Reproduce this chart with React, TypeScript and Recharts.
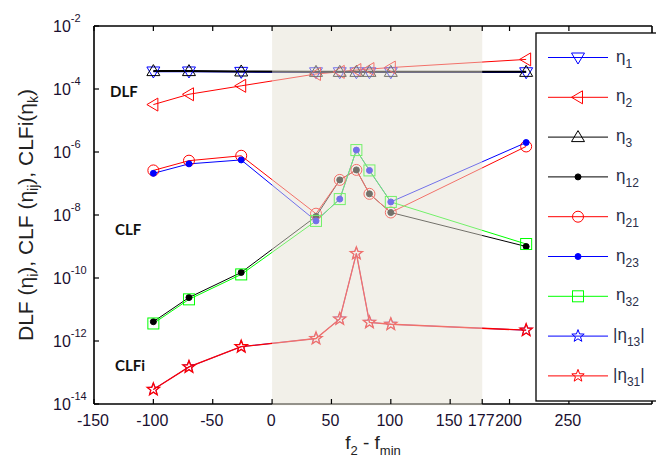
import React from 'react';
import { LineChart, Line, XAxis, YAxis, ReferenceArea } from 'recharts';

// f2 - fmin positions
const fOffsets = [-100, -70, -26, 37, 57, 71, 82, 100, 214];

// DLF
const eta1 = [3.6e-4, 3.6e-4, 3.5e-4, 3.4e-4, 3.4e-4, 3.4e-4, 3.4e-4, 3.4e-4, 3.4e-4];
const eta2 = [3.2e-5, 6.8e-5, 1.26e-4, 3.0e-4, 3.5e-4, 4.0e-4, 4.3e-4, 4.8e-4, 8.7e-4];
const eta3 = [3.7e-4, 3.7e-4, 3.6e-4, 3.5e-4, 3.5e-4, 3.5e-4, 3.5e-4, 3.5e-4, 3.5e-4];
// CLF
const eta12 = [4.1e-12, 2.4e-11, 1.5e-10, 9.0e-9, 1.3e-7, 2.7e-7, 4.7e-8, 1.2e-8, 1.0e-9];
const eta21 = [2.6e-7, 5.3e-7, 7.6e-7, 1.1e-8, 1.3e-7, 2.7e-7, 4.7e-8, 1.2e-8, 1.5e-6];
const eta23 = [2.1e-7, 4.2e-7, 5.6e-7, 6.5e-9, 3.2e-8, 1.15e-6, 2.6e-7, 2.6e-8, 2.0e-6];
const eta32 = [3.6e-12, 2.1e-11, 1.3e-10, 6.5e-9, 3.2e-8, 1.15e-6, 2.6e-7, 2.6e-8, 1.2e-9];
// CLFi
const eta13 = [2.9e-14, 1.5e-13, 6.6e-13, 1.2e-12, 5.0e-12, 6.0e-10, 3.9e-12, 3.4e-12, 2.2e-12];
const eta31 = [2.9e-14, 1.5e-13, 6.6e-13, 1.2e-12, 5.0e-12, 6.0e-10, 3.9e-12, 3.4e-12, 2.2e-12];

const xTicks = [-150, -100, -50, 0, 50, 100, 150, 177, 200, 250];
const yTicks = [1e-14, 1e-12, 1e-10, 1e-8, 1e-6, 1e-4, 1e-2];
const bandRange = [0, 177];

const data = fOffsets.map((f, i) => ({
  f,
  eta1: eta1[i], eta2: eta2[i], eta3: eta3[i],
  eta12: eta12[i], eta21: eta21[i], eta23: eta23[i], eta32: eta32[i],
  eta13: eta13[i], eta31: eta31[i],
}));

type Shape = 'down' | 'left' | 'up' | 'dot' | 'circle' | 'square' | 'star';

const series: { key: string; sub: string; abs?: boolean; color: string; shape: Shape; width: number }[] = [
  { key: 'eta1', sub: '1', color: '#0000ff', shape: 'down', width: 1.5 },
  { key: 'eta2', sub: '2', color: '#ff0000', shape: 'left', width: 1 },
  { key: 'eta3', sub: '3', color: '#000000', shape: 'up', width: 2 },
  { key: 'eta12', sub: '12', color: '#000000', shape: 'dot', width: 1 },
  { key: 'eta21', sub: '21', color: '#ff0000', shape: 'circle', width: 1 },
  { key: 'eta23', sub: '23', color: '#0000ff', shape: 'dot', width: 1 },
  { key: 'eta32', sub: '32', color: '#00ff00', shape: 'square', width: 1 },
  { key: 'eta13', sub: '13', abs: true, color: '#0000ff', shape: 'star', width: 0.8 },
  { key: 'eta31', sub: '31', abs: true, color: '#ff0000', shape: 'star', width: 1.3 },
];

function starPoints(cx: number, cy: number, ro: number, ri: number) {
  const pts: string[] = [];
  for (let i = 0; i < 10; i++) {
    const r = i % 2 === 0 ? ro : ri;
    const a = -Math.PI / 2 + (i * Math.PI) / 5;
    pts.push(`${cx + r * Math.cos(a)},${cy + r * Math.sin(a)}`);
  }
  return pts.join(' ');
}

function Marker({ shape, color, cx, cy, sw = 1 }: { shape: Shape; color: string; cx: number; cy: number; sw?: number }) {
  const common = { fill: 'none', stroke: color, strokeWidth: sw };
  switch (shape) {
    case 'down':
      return <polygon points={`${cx - 6.5},${cy - 4.5} ${cx + 6.5},${cy - 4.5} ${cx},${cy + 6.5}`} {...common} />;
    case 'up':
      return <polygon points={`${cx - 6.5},${cy + 4.5} ${cx + 6.5},${cy + 4.5} ${cx},${cy - 6.5}`} {...common} />;
    case 'left':
      return <polygon points={`${cx - 6.5},${cy} ${cx + 4.5},${cy - 6.5} ${cx + 4.5},${cy + 6.5}`} {...common} />;
    case 'dot':
      return <circle cx={cx} cy={cy} r={3} fill={color} stroke={color} />;
    case 'circle':
      return <circle cx={cx} cy={cy} r={5.5} {...common} />;
    case 'square':
      return <rect x={cx - 5.5} y={cy - 5.5} width={11} height={11} {...common} />;
    case 'star':
      return <polygon points={starPoints(cx, cy, 6.5, 2.7)} {...common} />;
  }
  return null;
}

const FONT = '"Liberation Sans", Arial, sans-serif';

const YTick = (props: any) => {
  const { x, y, payload } = props;
  const exp = Math.round(Math.log10(payload.value));
  return (
    <g>
      <line x1={x} y1={y} x2={x + 5} y2={y} stroke="#000" strokeWidth={1.2} />
      <text x={x - 41} y={y + 6} fontFamily={FONT} fontSize={16} fill="#1a1030">
        <tspan>10</tspan>
        <tspan dy={-10} fontSize={11}>{`${exp}`}</tspan>
      </text>
    </g>
  );
};

const XTickBottom = (props: any) => {
  const { x, y, payload } = props;
  return (
    <g>
      <line x1={x} y1={y} x2={x} y2={y - 5} stroke="#000" strokeWidth={1.2} />
      <text x={x - 1} y={y + 22} textAnchor="middle" fontFamily={FONT} fontSize={16} fill="#1a1030">
        {String(payload.value)}
      </text>
    </g>
  );
};

const XTickTop = (props: any) => {
  const { x, y } = props;
  return <line x1={x} y1={y} x2={x} y2={y + 5} stroke="#000" strokeWidth={1.2} />;
};

function EtaLabel({ x, y, sub, abs }: { x: number; y: number; sub: string; abs?: boolean }) {
  return (
    <text x={x} y={y} fontFamily={FONT} fontSize={17} fill="#2a2f4a">
      {abs ? '|' : ''}η<tspan dy={6} fontSize={12}>{sub}</tspan>
      {abs ? <tspan dy={-6}>|</tspan> : null}
    </text>
  );
}

export default function App() {
  const legendTop = 57.5;
  const legendStep = 39.8;
  return (
    <div style={{ position: 'absolute', left: 0, top: 0, width: 656, height: 463, background: '#fff' }}>
      <LineChart
        width={656}
        height={463}
        data={data}
        margin={{ top: 16, right: 0, bottom: 29, left: 54 }}
      >
        <XAxis
          dataKey="f"
          type="number"
          domain={[-150, 320]}
          ticks={xTicks}
          interval={0}
          minTickGap={0}
          height={30}
          tickSize={0}
          tickMargin={0}
          tickLine={false}
          axisLine={{ stroke: '#000', strokeWidth: 1.6 }}
          tick={<XTickBottom />}
          allowDataOverflow
        />
        <XAxis
          xAxisId="top"
          orientation="top"
          dataKey="f"
          type="number"
          domain={[-150, 320]}
          ticks={xTicks}
          interval={0}
          minTickGap={0}
          height={10}
          tickSize={0}
          tickMargin={0}
          tickLine={false}
          axisLine={{ stroke: '#000', strokeWidth: 1.6 }}
          tick={<XTickTop />}
          allowDataOverflow
        />
        <YAxis
          type="number"
          scale="log"
          domain={[1e-14, 1e-2]}
          ticks={yTicks}
          interval={0}
          width={40}
          tickSize={0}
          tickMargin={0}
          tickLine={false}
          axisLine={{ stroke: '#000', strokeWidth: 1.6 }}
          tick={<YTick />}
          allowDataOverflow
        />
        <YAxis
          yAxisId="right"
          orientation="right"
          type="number"
          scale="log"
          domain={[1e-14, 1e-2]}
          width={4}
          tick={false}
          tickLine={false}
          axisLine={{ stroke: '#000', strokeWidth: 1.6 }}
          allowDataOverflow
        />
        {series.map((s) => (
          <Line
            key={s.key}
            dataKey={s.key}
            stroke={s.color}
            strokeWidth={s.width}
            isAnimationActive={false}
            activeDot={false}
            dot={(p: any) => (
              <g key={`${s.key}-${p.index}`}>
                <Marker shape={s.shape} color={s.color} cx={p.cx} cy={p.cy} sw={s.shape === 'star' ? s.width : 1} />
              </g>
            )}
          />
        ))}
        <ReferenceArea
          x1={bandRange[0]}
          x2={bandRange[1]}
          y1={9.2e-15}
          y2={9.2e-3}
          ifOverflow="visible"
          fill="#e6e1d3"
          fillOpacity={0.5}
          stroke="none"
          {...({ zIndex: 1000 } as any)}
        />
      </LineChart>
      <svg
        width={656}
        height={463}
        style={{ position: 'absolute', left: 0, top: 0, pointerEvents: 'none' }}
      >
        {/* annotations */}
        <text x={110} y={97} fontFamily="Lato, 'Open Sans', sans-serif" fontWeight={700} fontSize={15} fill="#111">DLF</text>
        <text x={115} y={235} fontFamily="Lato, 'Open Sans', sans-serif" fontWeight={700} fontSize={15} fill="#111">CLF</text>
        <text x={115} y={371} fontFamily="Lato, 'Open Sans', sans-serif" fontWeight={700} fontSize={15} fill="#111">CLFi</text>

        {/* y title */}
        <text
          transform="translate(33,215) rotate(-90)"
          textAnchor="middle"
          fontFamily={FONT}
          fontSize={21}
          fill="#222"
        >
          DLF (η<tspan dy={5} fontSize={14}>i</tspan><tspan dy={-5}>),  CLF (η</tspan>
          <tspan dy={5} fontSize={14}>ij</tspan><tspan dy={-5}>),  CLFi(η</tspan>
          <tspan dy={5} fontSize={14}>k</tspan><tspan dy={-5}>)</tspan>
        </text>

        {/* x title */}
        <text x={373} y={449} textAnchor="middle" fontFamily={FONT} fontSize={19} fill="#222">
          f<tspan dy={6} fontSize={13}>2</tspan><tspan dy={-6}> - f</tspan>
          <tspan dy={6} fontSize={13}>min</tspan>
        </text>

        {/* legend */}
        <rect x={536} y={33} width={130} height={368} fill="#fff" stroke="#000" strokeWidth={1.3} />
        {series.map((s, i) => {
          const y = legendTop + i * legendStep;
          return (
            <g key={s.key}>
              <line x1={548} y1={y} x2={608} y2={y} stroke={s.color} strokeWidth={1} />
              <Marker shape={s.shape} color={s.color} cx={578} cy={y} />
              <EtaLabel x={s.abs ? 613 : 616} y={y + 4} sub={s.sub} abs={s.abs} />
            </g>
          );
        })}
      </svg>
    </div>
  );
}
